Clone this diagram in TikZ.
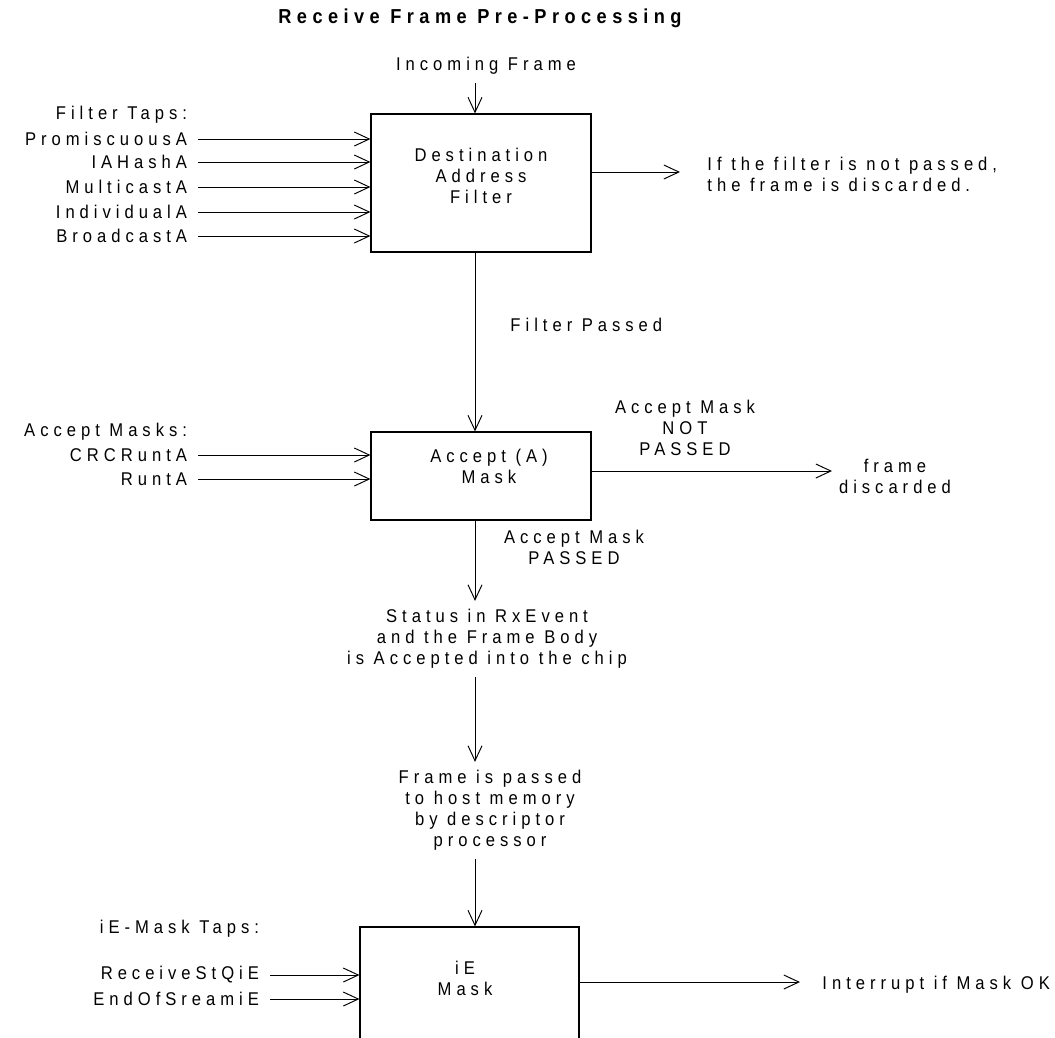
\documentclass[tikz,border=0pt]{standalone}
\usepackage{fontspec}
\setmainfont{Liberation Sans}[FakeStretch=0.9,LetterSpace=27]
\usetikzlibrary{arrows.meta}

\begin{document}
\begin{tikzpicture}[x=2cm, y=-2cm, >={Straight Barb[length=3mm,width=2.8mm]},
	font=\fontsize{10.5}{12}\selectfont, line width=0.55pt,
	box/.style={draw, line width=0.65pt},
	tap/.style={anchor=east, inner xsep=6pt},
	msg/.style={align=center, inner sep=4.5pt}]
	\clip (0, 0) rectangle (10.55, 10.37);

	\node[font=\fontsize{11.5}{13}\selectfont\bfseries] (title) at (4.80, 0.18) {Receive Frame Pre-Processing};
	\coordinate (spine) at (4.75, 0);

	% destination address filter
	\node[msg] (in) at (4.86, 0.66) {Incoming Frame};
	\node[box, minimum width=4.4cm, minimum height=2.76cm] (daf) at (4.81, 1.83) {};
	\node[align=center] (dafname) at (4.81, 1.76) {Destination\\Address\\Filter};
	\draw[->] (in.south -| spine) -- (daf.north -| spine);

	\node[tap] (ftaps) at (1.98, 1.15) {Filter Taps:};
	\foreach \tap/\y in {PromiscuousA/1.39, IAHashA/1.62, MulticastA/1.87, IndividualA/2.12, BroadcastA/2.36} {
		\node[tap] (\tap) at (1.98, \y) {\tap};
		\draw[->] (\tap.east) -- (\tap.east -| daf.west);
	}

	\coordinate (dafout) at (6.80, 1.72);
	\node[anchor=west, align=left, inner xsep=0pt] (dafdrop) at (7.07, 1.745) {If the filter is not passed,\\the frame is discarded.};
	\draw[->] (daf.east |- dafout) -- (dafout);

	% accept mask
	\node[box, minimum width=4.4cm, minimum height=1.76cm] (acc) at (4.81, 4.76) {};
	\node[align=center] (accname) at (4.89, 4.665) {Accept (A)\\Mask};
	\draw[->] (daf.south -| spine) -- (acc.north -| spine);
	\node[anchor=west, inner xsep=0pt] (fpass) at (5.10, 3.25) {Filter Passed};

	\node[tap] (amasks) at (1.98, 4.32) {Accept Masks:};
	\foreach \tap/\y in {CRCRuntA/4.55, RuntA/4.79} {
		\node[tap] (\tap) at (1.98, \y) {\tap};
		\draw[->] (\tap.east) -- (\tap.east -| acc.west);
	}

	\node[align=center] (notpass) at (6.85, 4.28) {Accept Mask\\NOT\\PASSED};
	\coordinate (accout) at (8.32, 4.71);
	\node[align=center] (accdrop) at (8.95, 4.765) {frame\\discarded};
	\draw[->] (acc.east |- accout) -- (accout);
	\node[align=center] (pass) at (5.74, 5.47) {Accept Mask\\PASSED};

	% into the chip and on to the host
	\node[msg] (status) at (4.87, 6.39) {Status in RxEvent\\and the Frame Body\\is Accepted into the chip};
	\draw[->] (acc.south -| spine) -- (status.north -| spine);
	\node[msg] (host) at (4.90, 8.105) {Frame is passed\\to host memory\\by descriptor\\processor};
	\draw[->] (status.south -| spine) -- (host.north -| spine);

	% iE mask
	\node[box, minimum width=4.38cm, minimum height=2.8cm] (iem) at (4.695, 9.97) {};
	\node[align=center] (iemname) at (4.65, 9.78) {iE\\Mask};
	\draw[->] (host.south -| spine) -- (iem.north -| spine);

	\node[tap] (itaps) at (2.70, 9.29) {iE-Mask Taps:};
	\foreach \tap/\y in {ReceiveStQiE/9.75, EndOfSreamiE/9.99} {
		\node[tap] (\tap) at (2.70, \y) {\tap};
		\draw[->] (\tap.east) -- (\tap.east -| iem.west);
	}

	\coordinate (iemout) at (8.00, 9.82);
	\node[anchor=west, inner xsep=0pt] (irq) at (8.22, 9.85) {Interrupt if Mask OK};
	\draw[->] (iem.east |- iemout) -- (iemout);

\end{tikzpicture}
\end{document}
